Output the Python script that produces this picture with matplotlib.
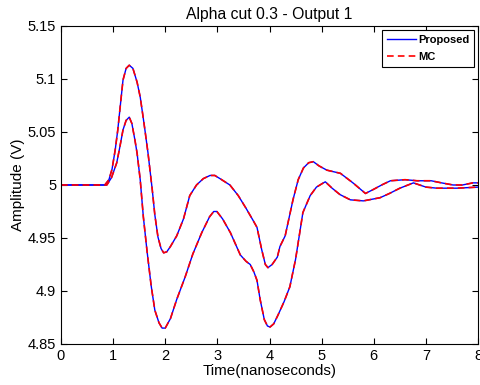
import matplotlib
matplotlib.use('Agg')
from matplotlib import pyplot as pl

pl.rcParams['font.family'] = ['Liberation Sans', 'DejaVu Sans']

# upper envelope
t_up = [0, 0.5, 0.84, 0.92, 0.98, 1.04, 1.09, 1.13, 1.19, 1.25, 1.31, 1.38,
        1.46, 1.52, 1.57, 1.61, 1.64, 1.67, 1.71, 1.75, 1.8, 1.86, 1.92,
        1.97, 2.03, 2.1, 2.22, 2.35, 2.47, 2.6, 2.73, 2.86, 2.95, 3.05, 3.24,
        3.4, 3.55, 3.68, 3.76, 3.85, 3.92, 3.97, 4.05, 4.15, 4.2, 4.3, 4.45,
        4.55, 4.65, 4.75, 4.84, 4.95, 5.1, 5.36, 5.6, 5.84, 6.0, 6.15, 6.32,
        6.6, 6.83, 7.1, 7.3, 7.52, 7.7, 7.9, 8.0]
v_up = [5.0, 5.0, 5.0, 5.005, 5.015, 5.033, 5.052, 5.071, 5.099, 5.11,
        5.113, 5.11, 5.097, 5.083, 5.066, 5.052, 5.041, 5.03, 5.013, 4.996,
        4.972, 4.951, 4.94, 4.936, 4.937, 4.942, 4.952, 4.968, 4.99, 5.0,
        5.006, 5.009, 5.009, 5.006, 5.0, 4.99, 4.978, 4.967, 4.96, 4.939,
        4.925, 4.922, 4.925, 4.932, 4.942, 4.952, 4.986, 5.005, 5.016, 5.021,
        5.022, 5.018, 5.014, 5.011, 5.002, 4.992, 4.996, 5.0, 5.004, 5.005,
        5.004, 5.004, 5.002, 5.0, 5.0, 5.002, 5.002]

# lower envelope
t_lo = [0, 0.5, 0.88, 0.97, 1.07, 1.13, 1.19, 1.25, 1.31, 1.36, 1.42, 1.46,
        1.52, 1.58, 1.65, 1.73, 1.8, 1.88, 1.94, 2.0, 2.1, 2.22, 2.38, 2.53,
        2.7, 2.85, 2.93, 2.99, 3.1, 3.25, 3.44, 3.55, 3.63, 3.7, 3.76, 3.82,
        3.9, 3.96, 4.01, 4.08, 4.16, 4.28, 4.39, 4.5, 4.64, 4.78, 4.9, 5.0,
        5.07, 5.2, 5.35, 5.55, 5.8, 6.12, 6.3, 6.5, 6.76, 7.0, 7.21, 7.6, 8.0]
v_lo = [5.0, 5.0, 5.0, 5.007, 5.021, 5.036, 5.052, 5.061, 5.064, 5.058,
        5.042, 5.03, 5.005, 4.97, 4.938, 4.905, 4.882, 4.87, 4.865, 4.865,
        4.874, 4.892, 4.913, 4.935, 4.955, 4.97, 4.975, 4.975, 4.968, 4.955,
        4.934, 4.928, 4.925, 4.918, 4.91, 4.892, 4.873, 4.867, 4.866, 4.869,
        4.877, 4.89, 4.904, 4.93, 4.974, 4.99, 4.998, 5.001, 5.003, 4.997,
        4.991, 4.986, 4.985, 4.988, 4.992, 4.997, 5.002, 4.998, 4.997, 4.997,
        4.998]

fig = pl.figure(figsize=(4.8, 3.85), dpi=100)
ax = fig.add_axes([0.127, 0.1065, 0.869, 0.826])

ax.plot(t_up, v_up, color='b', linewidth=1.0, label='Proposed')
ax.plot(t_up, v_up, color='r', linestyle='--', dashes=(4, 2.5), linewidth=1.2, label='MC')
ax.plot(t_lo, v_lo, color='b', linewidth=1.0)
ax.plot(t_lo, v_lo, color='r', linestyle='--', dashes=(4, 2.5), linewidth=1.2)

ax.set_xlim(0, 8)
ax.set_ylim(4.85, 5.15)
ax.set_xticks(range(0, 9))
ax.set_yticks([4.85, 4.9, 4.95, 5.0, 5.05, 5.1, 5.15])
ax.set_yticklabels(['4.85', '4.9', '4.95', '5', '5.05', '5.1', '5.15'])
ax.tick_params(direction='in', top=True, right=True, labelsize=10.5, length=4)
ax.set_xlabel('Time(nanoseconds)', fontsize=11, labelpad=1)
ax.set_ylabel('Amplitude (V)', fontsize=11, labelpad=2)
ax.set_title('Alpha cut 0.3 - Output 1', fontsize=11.3, pad=5)

leg = ax.legend(loc='upper right', prop={'weight': 'bold', 'size': 8},
                fancybox=False, edgecolor='k', framealpha=1,
                handlelength=2.6, borderpad=0.45, labelspacing=0.6,
                handletextpad=0.2, borderaxespad=0.35)
leg.get_frame().set_linewidth(0.8)

fig.savefig('out.png', dpi=100)
